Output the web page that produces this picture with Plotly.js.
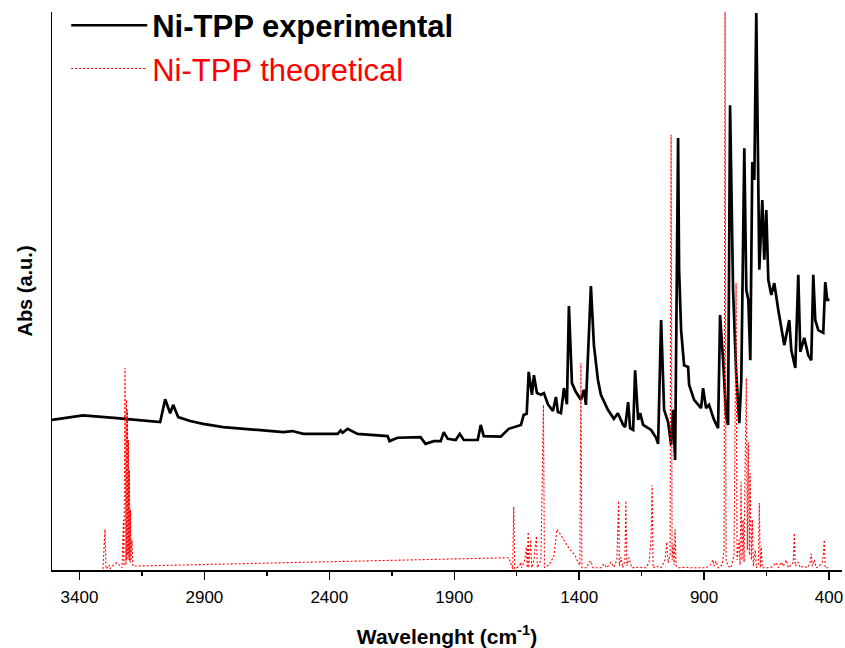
<!DOCTYPE html>
<html>
<head>
<meta charset="utf-8">
<script src="https://cdn.plot.ly/plotly-3.0.1.min.js"></script>
<style>html,body{margin:0;padding:0;background:#fff;}#chart{width:845px;height:648px;}</style>
</head>
<body>
<div id="chart"></div>
<script>
// Ni-TPP experimental spectrum (wavenumber cm-1, absorbance a.u.)
const expX = [3510,3386,3250,3145,3077,3057,3037,3025,3005,2957,2905,2825,2756,2688,2584,2548,2504,2367,2355,2347,2327,2287,2167,2159,2127,2035,2015,1982,1954,1942,1926,1894,1878,1862,1806,1794,1782,1714,1682,1633,1622,1610,1602,1589,1581,1569,1553,1541,1525,1505,1493,1485,1473,1461,1449,1441,1429,1413,1393,1381,1373,1365,1353,1341,1325,1313,1285,1261,1245,1224,1216,1204,1196,1184,1176,1164,1156,1144,1112,1092,1084,1072,1060,1044,1032,1024,1016,1004,1000,992,980,964,960,940,912,904,892,880,860,844,836,824,812,804,796,784,772,759,751,739,731,723,715,707,699,691,683,679,667,659,651,643,631,619,603,579,559,551,535,523,515,499,483,471,463,455,443,423,415,407,398];
const expY = [26.9,27.7,27.2,26.7,26.5,30.6,28.1,29.6,27.4,26.7,26.2,25.6,25.4,25.1,24.7,24.9,24.4,24.4,25.0,24.6,25.3,24.4,24.0,23.1,23.7,23.8,22.6,23.1,23.1,24.7,23.5,23.3,24.4,23.3,23.3,26.0,24.0,23.9,25.3,26.0,27.8,28.0,35.5,31.4,34.9,31.7,31.4,31.7,29.7,28.5,31.0,28.3,28.1,32.6,29.7,47.3,33.5,31.9,30.5,32.3,29.6,38.4,50.9,40.3,34.1,31.4,28.7,27.1,28.1,26.0,25.6,30.1,25.4,25.1,35.8,26.9,28.1,26.0,25.1,23.7,22.6,44.8,28.7,26.5,22.4,28.7,19.7,77.4,53.8,43.0,36.7,36.4,33.2,30.5,29.0,32.6,29.0,29.6,26.9,25.4,45.7,37.6,27.8,26.0,83.3,50.2,35.8,26.3,34.1,75.6,50.2,48.4,37.6,73.1,69.9,99.8,69.0,53.8,66.3,55.6,64.5,52.0,49.3,51.4,46.6,40.3,44.8,39.4,36.2,52.9,39.1,41.6,38.5,37.6,52.9,44.8,43.0,42.5,51.6,48.4,48.4];

// Ni-TPP theoretical spectrum (wavenumber cm-1, intensity a.u.)
const theoX = [3306,3298,3294,3286,3282,3278,3270,3250,3230,3224,3222,3218,3214,3212,3210,3208,3206,3204,3202,3200,3198,3196,3194,3190,3186,1682,1666,1662,1658,1638,1634,1630,1618,1611,1608,1604,1602,1594,1590,1581,1571,1567,1553,1543,1539,1521,1501,1489,1481,1461,1441,1417,1405,1397,1393,1389,1369,1361,1353,1345,1313,1301,1289,1273,1261,1249,1242,1239,1233,1225,1217,1213,1209,1201,1189,1160,1132,1120,1112,1108,1104,1092,1072,1056,1049,1044,1036,1032,1028,1024,1020,1016,1012,1000,972,952,920,892,876,864,860,852,844,828,820,816,812,804,792,780,772,768,760,756,752,748,744,740,736,731,727,723,719,716,711,707,703,695,691,683,679,675,671,667,647,631,611,603,591,583,571,563,551,543,539,535,523,515,503,487,475,471,467,459,451,439,427,423,419,415,399];
const theoY = [0.2,7.3,0.2,0.5,0.9,0.2,0.7,1.3,0.4,9.0,0.7,36.2,0.9,30.5,1.8,28.7,2.7,23.3,1.8,17.9,1.4,10.8,1.3,5.4,0.7,2.2,0.2,11.3,0.2,0.7,1.4,0.4,1.8,4.1,0.4,6.8,0.4,5.4,0.4,1.8,6.1,0.4,1.8,29.6,0.4,0.9,2.5,7.3,6.8,5.4,3.9,2.7,1.4,0.9,37.1,0.4,0.4,1.3,1.6,0.4,0.4,1.1,0.4,1.4,0.5,1.8,12.4,0.7,2.3,0.4,1.8,12.4,0.7,2.2,0.4,0.5,0.4,1.4,5.9,15.2,0.4,0.7,0.4,1.8,5.0,1.3,2.7,78.0,1.8,4.5,0.9,7.3,0.7,0.4,0.5,0.4,0.4,0.4,0.9,1.8,0.7,1.6,0.4,0.9,3.6,102,1.8,0.7,0.4,2.7,51.4,1.8,5.4,0.9,15.8,1.8,9.0,1.4,17.9,34.4,3.6,22.9,2.7,17.4,1.8,9.0,0.7,3.6,0.4,0.9,12.0,0.4,4.1,0.4,0.4,0.5,1.3,0.4,1.4,0.7,1.8,0.4,0.9,1.4,6.6,0.7,1.4,0.4,0.7,0.4,1.4,2.9,0.7,1.8,0.4,0.7,1.4,2.5,5.4,0.4,0.4];

const traces = [
  {x: expX, y: expY, type: 'scatter', mode: 'lines', name: '<b>Ni-TPP experimental</b>',
   line: {color: '#000000', width: 2.7}},
  {x: theoX, y: theoY, type: 'scatter', mode: 'lines', name: '<span style="color:#ff0000">Ni-TPP theoretical</span>',
   line: {color: '#ff0000', width: 1.1, dash: '2px,2px'}}
];

const layout = {
  width: 845, height: 648,
  margin: {l: 52, r: 3, t: 12, b: 78, autoexpand: false},
  paper_bgcolor: '#ffffff', plot_bgcolor: '#ffffff',
  font: {family: 'Arial, "Liberation Sans", sans-serif', color: '#000'},
  showlegend: true,
  legend: {x: 0.018, y: 1.024, xanchor: 'left', yanchor: 'top', bgcolor: 'rgba(0,0,0,0)',
           font: {size: 31, family: 'Arial, "Liberation Sans", sans-serif'}, itemwidth: 76,
           tracegroupgap: 0},
  xaxis: {
    range: [3510, 348], tick0: 400, dtick: 500, ticks: 'outside', ticklen: 8, tickwidth: 1.5,
    tickcolor: '#000', showline: true, linewidth: 1.5, linecolor: '#000', mirror: false,
    showgrid: false, zeroline: false, tickfont: {size: 17}, ticklabelstandoff: 3,
    minor: {dtick: 250, tick0: 400, ticks: 'outside', ticklen: 4, tickwidth: 1.5, tickcolor: '#000', showgrid: false},
    title: {text: '<b>Wavelenght (cm<sup>-1</sup>)</b>', font: {size: 21}, standoff: 24}
  },
  yaxis: {
    range: [0, 100], showline: true, linewidth: 1.5, linecolor: '#000', showticklabels: false,
    ticks: '', showgrid: false, zeroline: false,
    title: {text: '<b>Abs (a.u.)</b>', font: {size: 20}, standoff: 12}
  }
};

Plotly.newPlot('chart', traces, layout, {displayModeBar: false, staticPlot: true});
</script>
</body>
</html>
